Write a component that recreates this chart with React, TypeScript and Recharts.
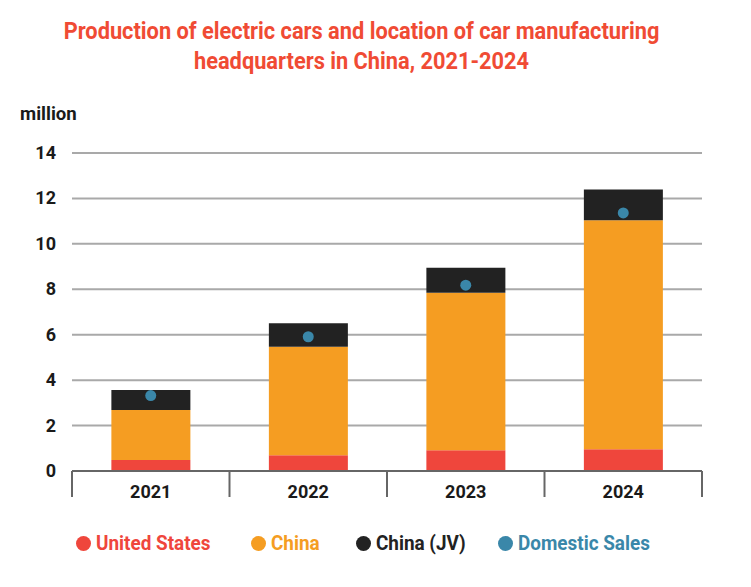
import { Bar, ComposedChart, CartesianGrid, Line, XAxis, YAxis } from 'recharts'

const years = ['2021', '2022', '2023', '2024']
const unitedStates = [0.48, 0.69, 0.91, 0.96]
const china = [2.21, 4.78, 6.94, 10.08]
const chinaJV = [0.88, 1.03, 1.1, 1.35]
const domesticSales = [3.32, 5.91, 8.18, 11.36]
const yTicks = [0, 2, 4, 6, 8, 10, 12, 14]

const RED = '#ef463c'
const ORANGE = '#f59d22'
const BLACK = '#222222'
const BLUE = '#3a87a9'
const TITLE = '#f04b34'

const data = years.map((year, i) => ({
  year,
  us: unitedStates[i],
  china: china[i],
  jv: chinaJV[i],
  domestic: domesticSales[i],
}))

const W = 751
const H = 587
const LEFT = 72
const RIGHT = 49
const band = (W - LEFT - RIGHT) / years.length

const font = 'Roboto, "Liberation Sans", sans-serif'

function YearTick(props: any) {
  const { x, y, payload, index } = props
  const half = band / 2
  return (
    <g>
      {index === 0 && <line x1={x - half} x2={x - half} y1={y - 8} y2={y + 18} stroke="#666" strokeWidth={2} />}
      <line x1={x + half} x2={x + half} y1={y - 8} y2={y + 18} stroke="#666" strokeWidth={2} />
      <text
        x={x}
        y={y + 19}
        textAnchor="middle"
        fill="#1a1a1a"
        fontSize={19}
        fontWeight={700}
        fontFamily={font}
        transform={`translate(${x} 0) scale(0.95 1) translate(${-x} 0)`}
      >
        {payload.value}
      </text>
    </g>
  )
}

function ValueTick(props: any) {
  const { x, y, payload } = props
  return (
    <text x={x} y={y + 6} textAnchor="end" fill="#1a1a1a" fontSize={18} fontWeight={700} fontFamily={font}>
      {payload.value}
    </text>
  )
}

const legendItems = [
  { label: 'United States', color: RED, left: 76 },
  { label: 'China', color: ORANGE, left: 251 },
  { label: 'China (JV)', color: BLACK, left: 356 },
  { label: 'Domestic Sales', color: BLUE, left: 498 },
]

export default function App() {
  return (
    <div style={{ position: 'absolute', left: 0, top: 0, width: W, height: H, background: '#fff', fontFamily: font }}>
      <div
        style={{
          position: 'absolute',
          left: 0,
          top: 17,
          width: W - 28,
          textAlign: 'center',
          color: TITLE,
          fontSize: 23,
          fontWeight: 700,
          lineHeight: '30px',
          transform: 'scaleX(0.947)',
          transformOrigin: '362px 0',
        }}
      >
        Production of electric cars and location of car manufacturing
        <br />
        headquarters in China, 2021-2024
      </div>
      <div
        style={{
          position: 'absolute',
          left: 20,
          top: 102,
          fontSize: 19,
          fontWeight: 700,
          color: '#1a1a1a',
          transform: 'scaleX(0.98)',
          transformOrigin: '0 0',
        }}
      >
        million
      </div>
      <div style={{ position: 'absolute', left: 0, top: 0 }}>
        <ComposedChart width={W} height={H} data={data} margin={{ top: 153, right: RIGHT, bottom: 86, left: 0 }} barCategoryGap="25%">
          <CartesianGrid vertical={false} stroke="#a9a9a9" strokeWidth={2} />
          <XAxis dataKey="year" tick={<YearTick />} tickLine={false} axisLine={{ stroke: '#666', strokeWidth: 2 }} interval={0} height={30} />
          <YAxis
            width={LEFT}
            domain={[0, 14]}
            ticks={yTicks}
            tickLine={false}
            axisLine={false}
            tickSize={6}
            tickMargin={10}
            tick={<ValueTick />}
          />
          <Bar dataKey="us" stackId="a" fill={RED} isAnimationActive={false} />
          <Bar dataKey="china" stackId="a" fill={ORANGE} isAnimationActive={false} />
          <Bar dataKey="jv" stackId="a" fill={BLACK} isAnimationActive={false} />
          <Line
            dataKey="domestic"
            stroke="none"
            dot={{ r: 5.5, fill: BLUE, stroke: 'none' }}
            activeDot={false}
            isAnimationActive={false}
          />
        </ComposedChart>
      </div>
      {legendItems.map((item) => (
        <div
          key={item.label}
          style={{ position: 'absolute', left: item.left, top: 531, display: 'flex', alignItems: 'center' }}
        >
          <span style={{ width: 15, height: 15, borderRadius: '50%', background: item.color, display: 'inline-block' }} />
          <span
            style={{
              marginLeft: 5,
              color: item.color,
              fontSize: 21,
              fontWeight: 700,
              display: 'inline-block',
              transform: 'scaleX(0.9)',
              transformOrigin: '0 50%',
              whiteSpace: 'nowrap',
            }}
          >
            {item.label}
          </span>
        </div>
      ))}
    </div>
  )
}
